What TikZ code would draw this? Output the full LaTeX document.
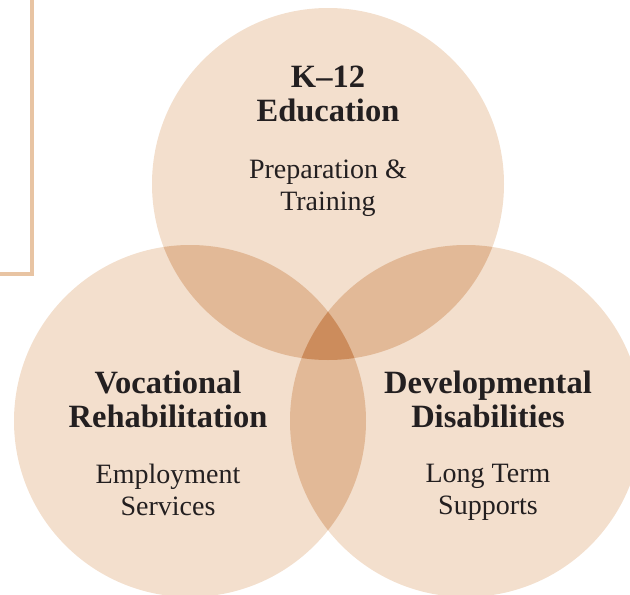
\documentclass[tikz,border=0pt]{standalone}
\usepackage{fontspec}
\setmainfont{Liberation Serif}
\usepackage{tikz}
\usetikzlibrary{positioning,calc}
\definecolor{tanlight}{RGB}{243,223,205}
\definecolor{tanmid}{RGB}{226,185,151}
\definecolor{tandark}{RGB}{204,140,92}
\definecolor{tanframe}{RGB}{232,196,163}
\definecolor{inkblack}{RGB}{35,31,32}
\tikzset{
	venn/.style={x=1pt,y=-1pt},
	ring/.style={circle,fill=tanlight,minimum size=352pt,inner sep=0pt},
	title/.style={align=center,inner sep=0pt,text=inkblack,
		font=\fontsize{32.5}{34}\selectfont\bfseries},
	sub/.style={align=center,inner sep=0pt,text=inkblack,
		font=\fontsize{28}{32}\selectfont},
	frame/.style={draw=tanframe,line width=4.5pt}
}

\begin{document}
\begin{tikzpicture}[venn]
	\useasboundingbox (0,0) rectangle (630,595);
	\clip (0,0) rectangle (630,595);
	
	% side frame
	\coordinate (ftop) at (32,-2);
	\coordinate (fcorner) at (32,274);
	\coordinate (fend) at (-2,274);
	\draw[frame] (ftop) -- (fcorner) -- (fend);
	
	% the three circles
	\node[ring] (edu) at (328,184) {};
	\node[ring] (voc) at (190,421) {};
	\node[ring] (dev) at (466,421) {};
	
	% pairwise overlaps
	\begin{scope}
		\clip (edu.center) circle (176);
		\fill[tanmid] (voc.center) circle (176);
		\fill[tanmid] (dev.center) circle (176);
	\end{scope}
	\begin{scope}
		\clip (voc.center) circle (176);
		\fill[tanmid] (dev.center) circle (176);
	\end{scope}
	% centre
	\begin{scope}
		\clip (edu.center) circle (176);
		\clip (voc.center) circle (176);
		\fill[tandark] (dev.center) circle (176);
	\end{scope}
	
	% labels
	\node[title] (edutitle) at (328,94) {K–12\\Education};
	\node[sub] (edusub) at (328,188) {Preparation \&\\Training};
	
	\node[title] (voctitle) at (168,399) {Vocational\\Rehabilitation};
	\node[sub] (vocsub) at (168,490) {Employment\\Services};
	
	\node[title] (devtitle) at (488,399) {Developmental\\Disabilities};
	\node[sub] (devsub) at (488,492) {Long Term\\Supports};
\end{tikzpicture}
\end{document}
